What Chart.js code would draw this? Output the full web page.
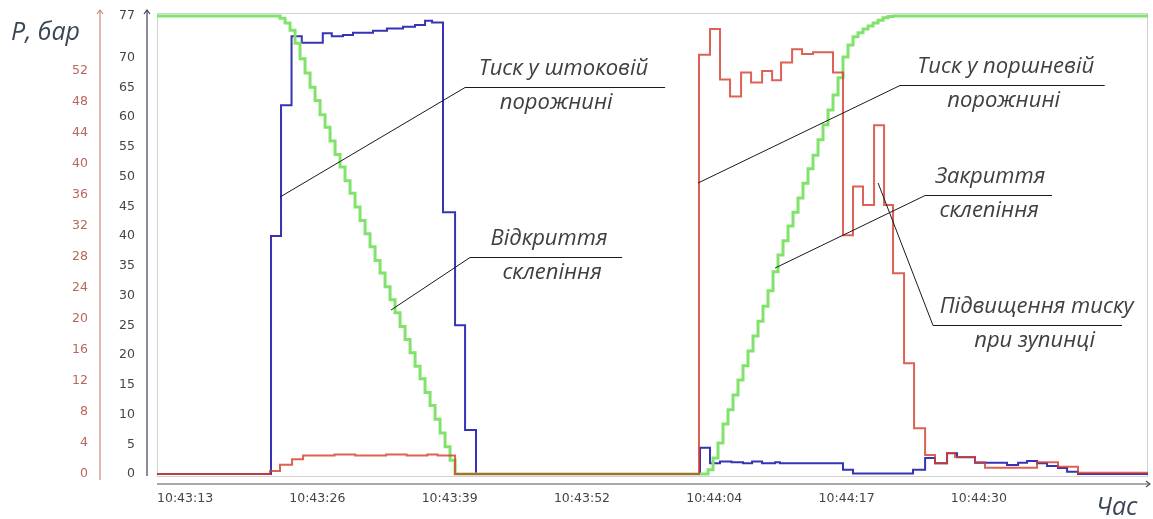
<!DOCTYPE html>
<html>
<head>
<meta charset="utf-8">
<script src="https://cdn.jsdelivr.net/npm/chart.js@4/dist/chart.umd.min.js"></script>
<style>
html,body{margin:0;padding:0;background:#fff;overflow:hidden;}
#wrap{width:1153px;height:519px;}
</style>
</head>
<body>
<div id="wrap"><canvas id="c" width="1153" height="519"></canvas></div>
<script>
// ---- time axis (seconds after 10:43:00) ----
const timeMin = 10.28;
const timeMax = 106.4;
const timeTickSeconds = [13, 25.83, 38.67, 51.5, 64.33, 77.17, 90];
const timeTickLabels = ['10:43:13', '10:43:26', '10:43:39', '10:43:52', '10:44:04', '10:44:17', '10:44:30'];

// ---- axis ticks ----
const rodAxisTicks = [0, 5, 10, 15, 20, 25, 30, 35, 40, 45, 50, 55, 60, 65, 70, 77];
const pistonAxisTicks = [0, 4, 8, 12, 16, 20, 24, 28, 32, 36, 40, 44, 48, 52];

// ---- rod-side pressure (blue), change points ----
const rodTimes = [10.28, 21.34, 22.31, 23.33, 24.32, 26.36, 27.23, 28.32, 29.29, 31.23, 32.59, 34.14, 35.31, 36.28, 36.96, 38.02, 39.19, 40.16, 41.22,
  62.95, 63.92, 64.89, 66.0, 67.12, 68.0, 68.97, 70.23, 70.7, 76.82, 77.79, 83.61, 84.78, 85.74, 86.91, 87.88, 89.62, 92.73, 93.80, 94.67, 95.64, 96.61, 97.67, 98.55, 99.61, 106.4];
const rodValues = [0, 40, 62, 73.6, 72.5, 74.1, 73.6, 73.8, 74.2, 74.5, 74.9, 75.2, 75.5, 76.2, 75.9, 44, 25, 7.4, 0,
  4.4, 1.8, 2.1, 2.0, 1.8, 2.1, 1.8, 2.0, 1.8, 0.7, 0.1, 0.7, 2.7, 1.8, 3.5, 2.8, 1.9, 1.5, 1.9, 2.2, 1.8, 1.35, 1.0, 0.4, 0, 0];

// ---- piston-side pressure (red), change points ----
const pistonTimes = [10.28, 21.24, 22.21, 23.38, 24.45, 27.5, 29.5, 32.5, 34.5, 36.5, 37.5, 39.19,
  62.85, 63.92, 64.89, 65.86, 66.93, 67.90, 68.97, 69.94, 70.81, 71.88, 72.84, 73.91, 75.85, 76.82, 77.79, 78.76, 79.83, 80.80, 81.67, 82.74, 83.71, 84.78, 85.74, 86.91, 87.68, 89.62, 90.59, 95.64, 97.67, 99.61, 106.4];
const pistonValues = [0, 0.4, 1.2, 1.9, 2.4, 2.5, 2.4, 2.5, 2.4, 2.5, 2.4, 0,
  54.1, 57.4, 50.9, 48.7, 51.8, 50.5, 52.0, 50.8, 53.1, 54.8, 54.2, 54.4, 51.8, 30.8, 37.1, 34.7, 45.0, 34.7, 25.9, 14.3, 5.9, 2.45, 1.4, 2.7, 2.2, 1.5, 0.8, 1.5, 0.95, 0.15, 0.15];

// ---- vault position (green), sampled every greenStep seconds on the two ramps ----
const greenStep = 0.485;
const greenFallStart = 21.73;
const greenFall = [77, 76.6, 75.8, 74.6, 72.4, 69.8, 67.4, 65.0, 62.8, 60.4, 58.3, 56.0, 53.7, 51.6, 49.3, 47.2, 44.9, 42.6, 40.4, 38.2, 35.9, 33.8, 31.5, 29.3, 27.1, 24.8, 22.6, 20.4, 18.1, 16.0, 13.7, 11.5, 9.2, 6.9, 4.6, 2.3, 0];
const greenRiseStart = 63.24;
const greenRise = [0, 0.7, 2.7, 5.2, 8.4, 10.8, 13.3, 15.8, 18.2, 20.7, 23.2, 25.7, 28.2, 30.8, 34.0, 36.8, 39.2, 41.7, 44.0, 46.4, 48.9, 51.3, 53.6, 56.2, 58.7, 61.2, 63.7, 66.6, 70.1, 72.1, 73.5, 74.2, 74.8, 75.3, 75.8, 76.3, 76.7, 76.9, 77];
const greenHoldValue = 77;

// ---- annotations (anchored in time / rod-axis units) ----
const annotations = [
  { lines: ['Тиск у штоковій', 'порожнині'], x0: 40.16, x1: 59.56, y: 65.05, cx: [49.7, 49.0], to: [22.21, 46.56] },
  { lines: ['Тиск у поршневій', 'порожнині'], x0: 82.35, x1: 102.2, y: 65.4, cx: [92.6, 92.4], to: [62.76, 48.92] },
  { lines: ['Відкриття', 'склепіння'], x0: 40.64, x1: 55.39, y: 36.48, cx: [48.3, 48.6], to: [32.98, 27.57] },
  { lines: ['Закриття', 'склепіння'], x0: 84.78, x1: 97.09, y: 46.9, cx: [91.1, 91.0], to: [70.23, 34.63] },
  { lines: ['Підвищення тиску', 'при зупинці'], x0: 85.55, x1: 103.88, y: 25.05, cx: [95.6, 95.4], to: [80.22, 48.92] }
];

const zip = (ts, vs) => ts.map((t, i) => ({ x: t, y: vs[i] }));
const greenData = [{ x: timeMin, y: greenHoldValue }]
  .concat(greenFall.map((v, i) => ({ x: greenFallStart + i * greenStep, y: v })))
  .concat(greenRise.map((v, i) => ({ x: greenRiseStart + i * greenStep, y: v })))
  .concat([{ x: timeMax, y: greenHoldValue }]);

const ANN_FONT = 'italic 22px "Open Sans"';

function arrowUp(ctx, x, yTop, yBottom, color) {
  ctx.strokeStyle = color; ctx.lineWidth = 1.2;
  ctx.beginPath(); ctx.moveTo(x, yBottom); ctx.lineTo(x, yTop); ctx.stroke();
  ctx.beginPath(); ctx.moveTo(x - 3, yTop + 4); ctx.lineTo(x, yTop); ctx.lineTo(x + 3, yTop + 4); ctx.stroke();
}
const noPad = s => { s.paddingTop = 0; s.paddingBottom = 0; s.paddingLeft = 0; s.paddingRight = 0; };

const decor = {
  id: 'decor',
  beforeDraw(chart) {
    const { ctx, width, height } = chart;
    ctx.save(); ctx.fillStyle = '#fff'; ctx.fillRect(0, 0, width, height); ctx.restore();
  },
  beforeDatasetsDraw(chart) {
    const { ctx, chartArea: a } = chart;
    ctx.save();
    ctx.strokeStyle = '#d2d2d2'; ctx.lineWidth = 1;
    ctx.strokeRect(a.left + 0.5, a.top + 0.5, a.right - a.left - 1, a.bottom - a.top - 1);
    ctx.restore();
  },
  afterDraw(chart) {
    const { ctx, chartArea: a, scales } = chart;
    const xs = scales.x, yb = scales.yB, yr = scales.yR;
    ctx.save();
    // axis lines with arrows
    arrowUp(ctx, yr.right + 1, a.top - 3, a.bottom + 3, '#c98a80');
    arrowUp(ctx, yb.right - 10, a.top - 3, a.bottom - 1, '#3d3d5c');
    const ax = xs.top + 7;
    ctx.strokeStyle = '#555'; ctx.lineWidth = 1.2;
    ctx.beginPath(); ctx.moveTo(a.left, ax); ctx.lineTo(a.right + 2, ax); ctx.stroke();
    ctx.beginPath(); ctx.moveTo(a.right - 2, ax - 3); ctx.lineTo(a.right + 2, ax); ctx.lineTo(a.right - 2, ax + 3); ctx.stroke();
    // axis titles
    ctx.fillStyle = '#3b4757';
    ctx.font = 'italic 25px "Open Sans"';
    ctx.textAlign = 'left'; ctx.textBaseline = 'alphabetic';
    ctx.fillText('P, бар', 11, 40);
    ctx.fillText('Час', 1096, 515);
    // annotations
    annotations.forEach(an => {
      const x0 = xs.getPixelForValue(an.x0), x1 = xs.getPixelForValue(an.x1);
      const y = Math.round(yb.getPixelForValue(an.y)) + 0.5;
      const tx = xs.getPixelForValue(an.to[0]), ty = yb.getPixelForValue(an.to[1]);
      ctx.strokeStyle = '#1a1a1a'; ctx.lineWidth = 1;
      ctx.beginPath(); ctx.moveTo(x0, y); ctx.lineTo(x1, y); ctx.stroke();
      ctx.beginPath(); ctx.moveTo(x0, y); ctx.lineTo(tx, ty); ctx.stroke();
      ctx.fillStyle = '#404040'; ctx.font = ANN_FONT; ctx.textAlign = 'center';
      ctx.fillText(an.lines[0], xs.getPixelForValue(an.cx[0]), y - 13);
      ctx.fillText(an.lines[1], xs.getPixelForValue(an.cx[1]), y + 21);
    });
    ctx.restore();
  }
};

new Chart(document.getElementById('c'), {
  type: 'line',
  data: {
    datasets: [
      { label: 'Тиск у поршневій порожнині', data: zip(pistonTimes, pistonValues), yAxisID: 'yR', stepped: true,
        borderColor: 'rgba(214,62,48,0.82)', borderWidth: 2, pointRadius: 0, fill: false },
      { label: 'Положення склепіння', data: greenData, yAxisID: 'yB', stepped: true,
        borderColor: '#82e36c', borderWidth: 3, pointRadius: 0, fill: false },
      { label: 'Тиск у штоковій порожнині', data: zip(rodTimes, rodValues), yAxisID: 'yB', stepped: true,
        borderColor: '#3434b4', borderWidth: 2, pointRadius: 0, fill: false }
    ]
  },
  options: {
    responsive: false,
    animation: false,
    devicePixelRatio: 1,
    parsing: false,
    normalized: true,
    layout: { padding: { top: 13, right: 5, left: 0, bottom: 0 } },
    plugins: { legend: { display: false }, tooltip: { enabled: false }, title: { display: false } },
    scales: {
      x: {
        type: 'linear', min: timeMin, max: timeMax,
        afterBuildTicks: s => { s.ticks = timeTickSeconds.map(v => ({ value: v })); },
        afterFit: s => { s.height = 42; noPad(s); },
        grid: { display: false, drawTicks: false },
        border: { display: false },
        ticks: { autoSkip: false, maxRotation: 0, padding: 14, color: '#444',
          font: { family: 'DejaVu Sans', size: 12.5 },
          callback: (v, i) => timeTickLabels[i] }
      },
      yB: {
        type: 'linear', position: 'left', weight: 0, min: -0.5, max: 77.5,
        afterBuildTicks: s => { s.ticks = rodAxisTicks.map(v => ({ value: v })); },
        afterFit: s => { s.width = 58; noPad(s); },
        grid: { display: false, drawTicks: false },
        border: { display: false },
        ticks: { autoSkip: false, padding: 22, color: '#454545',
          font: { family: 'DejaVu Sans', size: 12.5 } }
      },
      yR: {
        type: 'linear', position: 'left', weight: 1, min: -0.387, max: 59.48,
        afterBuildTicks: s => { s.ticks = pistonAxisTicks.map(v => ({ value: v })); },
        afterFit: s => { s.width = 99; noPad(s); },
        grid: { display: false, drawTicks: false },
        border: { display: false },
        ticks: { autoSkip: false, padding: 11, color: '#b8675c',
          font: { family: 'DejaVu Sans', size: 12.5 } }
      }
    }
  },
  plugins: [decor]
});
</script>
</body>
</html>
